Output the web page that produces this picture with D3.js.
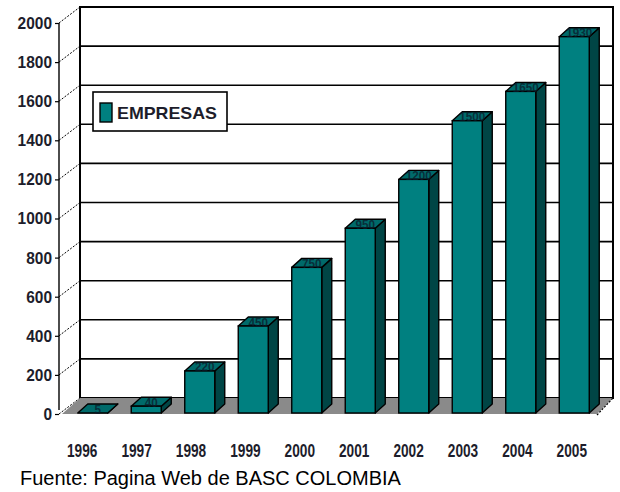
<!DOCTYPE html>
<html>
<head>
<meta charset="utf-8">
<script src="https://cdn.jsdelivr.net/npm/d3@7"></script>
<style>
  html, body { margin: 0; padding: 0; background: #fff; }
  svg { display: block; }
  .num { font-family: "Liberation Sans", Arial, sans-serif; font-weight: bold; }
</style>
</head>
<body>
<svg id="chart" width="620" height="492"></svg>
<script>
// Empresas certificadas BASC por año
const years = ["1996", "1997", "1998", "1999", "2000", "2001", "2002", "2003", "2004", "2005"];
const empresas = [5, 40, 220, 450, 750, 950, 1200, 1500, 1650, 1930];
const yTicks = [0, 200, 400, 600, 800, 1000, 1200, 1400, 1600, 1800, 2000];
const seriesName = "EMPRESAS";
const sourceText = "Fuente: Pagina Web de BASC COLOMBIA";

const svg = d3.select("#chart");

// 3D box geometry: front plane and back wall
const frontLeft = 60, frontRight = 597;
const depthX = 18;
const backLeft = frontLeft + depthX + 2, backRight = frontRight + 16;

const yFront = d3.scaleLinear().domain([0, 2000]).range([414, 23]);
const yBack = d3.scaleLinear().domain([0, 2000]).range([398, 7]);

const x = d3.scaleBand().domain(years).range([frontLeft + 2, frontRight]);
// category labels are spread along the lower front edge
const xLabel = d3.scaleBand().domain(years).range([55, 599]);

const teal = "#008080", tealSide = "#004545", tealTop = "#006a6a";
const textCol = "#1d1d2b";

// Condensed bold numerals: width set per character
const narrow = (sel, perChar) => sel
  .attr("textLength", function () { return this.textContent.length * perChar; })
  .attr("lengthAdjust", "spacingAndGlyphs");

// Back wall
svg.append("rect")
  .attr("x", backLeft).attr("y", yBack(2000))
  .attr("width", backRight - backLeft).attr("height", yBack(0) - yBack(2000))
  .attr("fill", "#fff").attr("stroke", "#000").attr("stroke-width", 2);

// Horizontal gridlines on the back wall
svg.append("g").selectAll("line")
  .data(yTicks.filter(v => v > 0 && v < 2000))
  .join("line")
  .attr("x1", backLeft).attr("x2", backRight)
  .attr("y1", d => yBack(d)).attr("y2", d => yBack(d))
  .attr("stroke", "#000").attr("stroke-width", 1.6);

// Dashed depth lines on the left side wall
svg.append("g").selectAll("line")
  .data(yTicks)
  .join("line")
  .attr("x1", frontLeft - 1).attr("y1", d => yFront(d))
  .attr("x2", backLeft).attr("y2", d => yBack(d))
  .attr("stroke", "#000").attr("stroke-width", 1)
  .attr("stroke-dasharray", "2,1.5");

// Floor
const floorPts = [
  [frontLeft + 2, yFront(0)], [backLeft, yBack(0)],
  [backRight, yBack(0)], [frontRight, yFront(0)]
];
svg.append("polygon")
  .attr("points", floorPts.map(p => p.join(",")).join(" "))
  .attr("fill", "#8a8a8a");
svg.append("line")
  .attr("x1", frontRight).attr("y1", yFront(0) + 1)
  .attr("x2", backRight).attr("y2", yBack(0))
  .attr("stroke", "#000").attr("stroke-width", 1.2).attr("stroke-dasharray", "2,1.5");

// Front value axis
svg.append("line")
  .attr("x1", frontLeft - 1).attr("x2", frontLeft - 1)
  .attr("y1", yFront(2000)).attr("y2", yFront(0) - 4)
  .attr("stroke", "#000").attr("stroke-width", 1.4);

const axis = d3.axisLeft(yFront).tickValues(yTicks).tickSize(4).tickPadding(3).tickFormat(d3.format("d"));
const axisG = svg.append("g")
  .attr("transform", `translate(${frontLeft - 1},0)`)
  .call(axis);
axisG.select(".domain").remove();
axisG.selectAll(".tick line").attr("stroke", "#000").attr("stroke-width", 1.2);
axisG.selectAll(".tick text")
  .attr("class", "num")
  .attr("font-size", 17)
  .attr("fill", textCol)
  .call(narrow, 8.6);

// 3D bars
const barW = 30, sideDX = 10, sideDY = -9;
const barLeft = d => x(d) + (x.bandwidth() - barW) / 2 + 4;
const barBottom = yFront(0) - 1;
const bars = svg.append("g").selectAll("g")
  .data(years.map((y, i) => ({ year: y, value: empresas[i] })))
  .join("g");

bars.append("polygon") // side face
  .attr("points", d => {
    const x0 = barLeft(d.year) + barW, yt = yFront(d.value);
    return [[x0, barBottom], [x0 + sideDX, barBottom + sideDY], [x0 + sideDX, yt + sideDY], [x0, yt]]
      .map(p => p.join(",")).join(" ");
  })
  .attr("fill", tealSide).attr("stroke", "#000").attr("stroke-width", 1.4).attr("stroke-linejoin", "round");

bars.append("polygon") // top face
  .attr("points", d => {
    const x0 = barLeft(d.year), yt = yFront(d.value);
    return [[x0, yt], [x0 + sideDX, yt + sideDY], [x0 + barW + sideDX, yt + sideDY], [x0 + barW, yt]]
      .map(p => p.join(",")).join(" ");
  })
  .attr("fill", tealTop).attr("stroke", "#000").attr("stroke-width", 1.4).attr("stroke-linejoin", "round");

bars.append("rect") // front face
  .attr("x", d => barLeft(d.year))
  .attr("y", d => yFront(d.value))
  .attr("width", barW)
  .attr("height", d => barBottom - yFront(d.value))
  .attr("fill", teal).attr("stroke", "#000").attr("stroke-width", 1.4);

// Value labels sitting on the bar tops
bars.append("text")
  .attr("class", "num")
  .attr("x", d => barLeft(d.year) + barW / 2 + sideDX / 2)
  .attr("y", d => yFront(d.value) + sideDY / 2 + 5)
  .attr("text-anchor", "middle")
  .attr("font-size", 13)
  .attr("fill", "#0b1a2a")
  .attr("opacity", 0.75)
  .text(d => d.value)
  .call(narrow, 6.5);

// Category labels
svg.append("g").selectAll("text")
  .data(years)
  .join("text")
  .attr("class", "num")
  .attr("x", d => xLabel(d) + xLabel.bandwidth() / 2)
  .attr("y", 457)
  .attr("text-anchor", "middle")
  .attr("font-size", 18)
  .attr("fill", textCol)
  .text(d => d)
  .call(narrow, 7.6);

// Legend
const legend = svg.append("g").attr("transform", "translate(93,92)");
legend.append("rect")
  .attr("width", 134).attr("height", 39)
  .attr("fill", "#fff").attr("stroke", "#000").attr("stroke-width", 1.6);
legend.append("rect")
  .attr("x", 7).attr("y", 11).attr("width", 12).attr("height", 19)
  .attr("fill", teal).attr("stroke", "#000").attr("stroke-width", 1.4);
legend.append("text")
  .attr("class", "num")
  .attr("x", 24).attr("y", 27)
  .attr("font-size", 17)
  .attr("textLength", 100).attr("lengthAdjust", "spacingAndGlyphs")
  .attr("fill", textCol)
  .text(seriesName);

// Source note
svg.append("text")
  .attr("x", 20).attr("y", 485)
  .attr("font-family", "'Liberation Sans', Arial, sans-serif")
  .attr("font-size", 20)
  .attr("fill", "#000")
  .text(sourceText);
</script>
</body>
</html>
